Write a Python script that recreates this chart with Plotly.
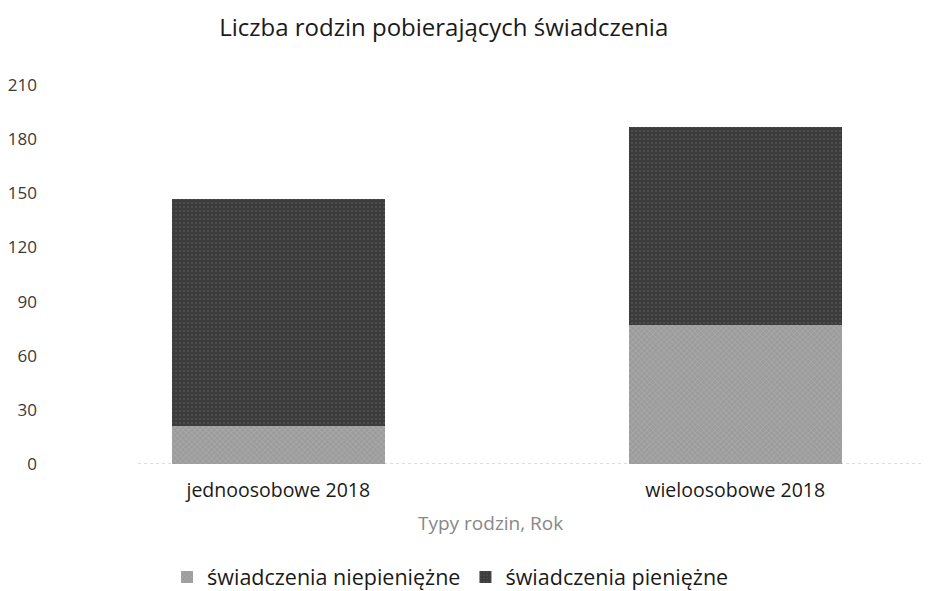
import plotly.graph_objects as go

categories = ["jednoosobowe 2018", "wieloosobowe 2018"]
niepieniezne = [21, 77]
pieniezne = [126, 110]
series_names = ["świadczenia niepieniężne", "świadczenia pieniężne"]
y_ticks = [0, 30, 60, 90, 120, 150, 180, 210]
x_title = "Typy rodzin, Rok"
chart_title = "Liczba rodzin pobierających świadczenia"

FONT = "Open Sans, Noto Sans, sans-serif"

fig = go.Figure()
fig.add_trace(go.Bar(
    x=categories, y=niepieniezne, name=series_names[0],
    marker=dict(color="#9c9c9c", line=dict(width=0),
                pattern=dict(shape="x", fgcolor="#c8c8c8", size=4, solidity=0.25)),
    width=0.466,
))
fig.add_trace(go.Bar(
    x=categories, y=pieniezne, name=series_names[1],
    marker=dict(color="#3c3c3c", line=dict(width=0),
                pattern=dict(shape=".", fgcolor="#6a6a6a", size=4, solidity=0.2)),
    width=0.466,
))

fig.update_layout(
    barmode="stack",
    width=933, height=591,
    paper_bgcolor="white", plot_bgcolor="white",
    font=dict(family=FONT, color="#222222"),
    margin=dict(l=130, r=18, t=77, b=135, autoexpand=False),
    title=dict(text=chart_title,
               x=0.467, xanchor="center", y=0.966, yanchor="middle",
               font=dict(size=24, color="#1a1a1a", family=FONT)),
    xaxis=dict(range=[-0.307, 1.411], showgrid=False, showline=False, zeroline=False,
               ticks="", tickfont=dict(size=19.5, color="#1a1a1a"),
               ticklabelstandoff=12, automargin=False),
    yaxis=dict(range=[0, 210], tickvals=y_ticks, showgrid=False, showline=False,
               zeroline=False, ticks="", tickfont=dict(size=17, color="#3a3a3a"),
               ticklabelstandoff=100, automargin=False),
    legend=dict(orientation="h", x=0.037, xanchor="left", y=-0.298, yanchor="middle",
                font=dict(size=21.5, color="#1a1a1a"), traceorder="normal",
                itemwidth=30, borderwidth=0),
    showlegend=True,
    bargap=0.0,
)
fig.add_annotation(text=x_title, xref="paper", yref="paper", x=0.449, y=-0.156,
                   xanchor="center", yanchor="middle", showarrow=False,
                   font=dict(size=19, color="#888888", family=FONT))
fig.add_shape(type="line", xref="paper", yref="y", x0=0, x1=1, y0=0, y1=0,
              line=dict(color="#bbbbbb", width=1, dash="dot"), layer="below")

fig.write_html("out.html")
